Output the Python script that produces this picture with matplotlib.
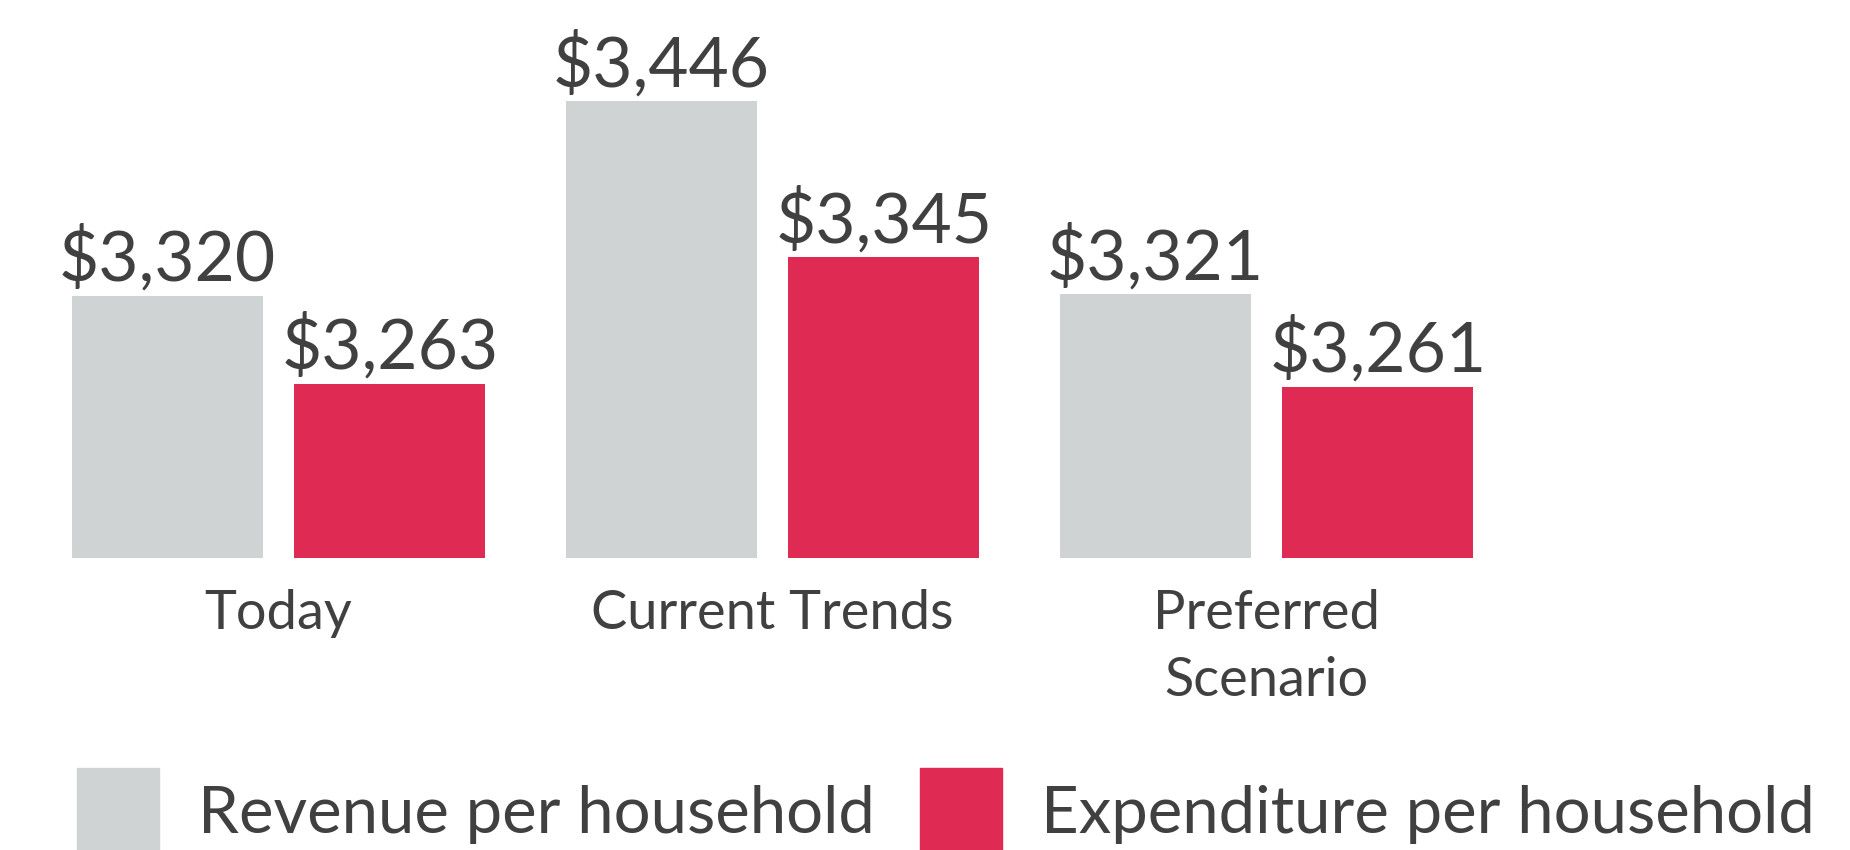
import matplotlib.pyplot as plt
from matplotlib.patches import Rectangle
import numpy as np

plt.rcParams['font.family'] = ['Lato', 'DejaVu Sans']

categories = ['Today', 'Current Trends', 'Preferred\nScenario']
revenue = [3320, 3446, 3321]
expenditure = [3263, 3345, 3261]
series_names = ['Revenue per household', 'Expenditure per household']
colors = ['#CFD3D4', '#DF2B54']
text_color = '#404040'

fig = plt.figure(figsize=(18.5, 8.5), dpi=100)
ax = fig.add_axes([0, 292 / 850, 1, 558 / 850])

x = np.arange(len(categories))
width = 0.387
offset = 0.225

bars_rev = ax.bar(x - offset, revenue, width, color=colors[0])
bars_exp = ax.bar(x + offset, expenditure, width, color=colors[1])

for bars in (bars_rev, bars_exp):
    for b in bars:
        ax.annotate(f'${b.get_height():,.0f}',
                    (b.get_x() + b.get_width() / 2, b.get_height()),
                    xytext=(0, 11), textcoords='offset points',
                    ha='center', va='baseline', fontsize=50, color=text_color)

ax.set_ylim(3150.4, 3150.4 + 558 / 1.5446)
ax.set_xlim(-0.564, 3.181)
ax.set_xticks(x)
ax.set_xticklabels(categories, fontsize=39, color=text_color, linespacing=1.45)
ax.tick_params(axis='x', length=0, pad=22)
ax.set_yticks([])
for s in ax.spines.values():
    s.set_visible(False)

# legend
legend_x = [77 / 1850, 920 / 1850]
for i, name in enumerate(series_names):
    fig.add_artist(Rectangle((legend_x[i], 0), 82 / 1850, 82 / 850,
                             transform=fig.transFigure, color=colors[i]))
    fig.text(legend_x[i] + 121 / 1850, 35 / 850, name, fontsize=47,
             color=text_color, va='center', ha='left')

plt.savefig('out.png', dpi=100)
